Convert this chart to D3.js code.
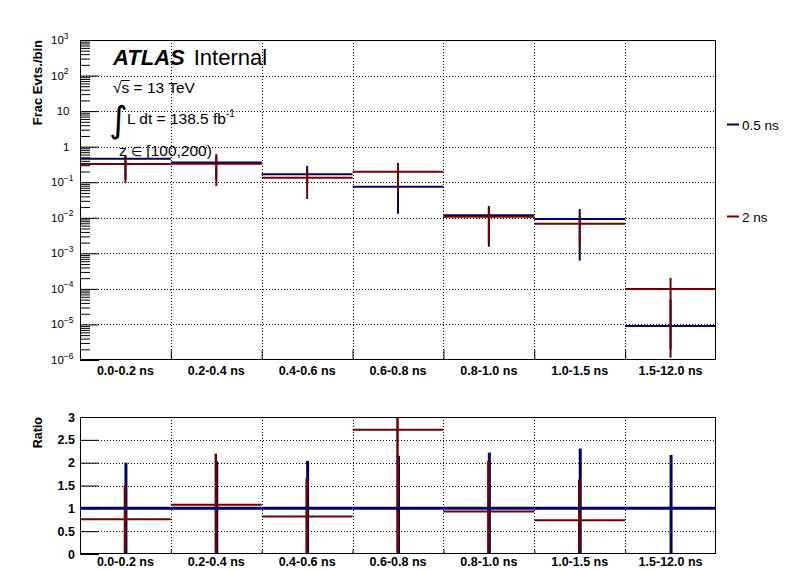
<!DOCTYPE html>
<html><head><meta charset="utf-8">
<script src="https://cdn.jsdelivr.net/npm/d3@7"></script>
<style>
body{margin:0;background:#fff;}
svg{display:block;font-family:"Liberation Sans",Arial,Helvetica,sans-serif;}
</style></head>
<body>
<svg id="c" width="796" height="572"></svg>
<script>
// ---------- data ----------
const bins = ["0.0-0.2 ns","0.2-0.4 ns","0.4-0.6 ns","0.6-0.8 ns","0.8-1.0 ns","1.0-1.5 ns","1.5-12.0 ns"];
const seriesNames = ["0.5 ns","2 ns"];
const seriesColors = ["#000066","#730000"];
// fraction of events per bin (upper panel)
const frac05   = [0.459, 0.359, 0.167, 0.0748, 0.01175, 0.00925, 9.0e-6];
const frac05Lo = [0.12, 0.12, 0.10, 0.0130, 0.00154, 0.00062, 2.0e-6];
const frac05Hi = [0.55, 0.55, 0.286, 0.14, 0.0214, 0.0177, 5.0e-5];
const frac2    = [0.326, 0.330, 0.134, 0.198, 0.0107, 0.0068, 1.0e-4];
const frac2Lo  = [0.0933, 0.0783, 0.0337, 0.0508, 0.00195, 0.00151, 1.16e-6];
const frac2Hi  = [0.583, 0.622, 0.235, 0.347, 0.0188, 0.0112, 2.03e-4];
// ratio to 0.5 ns (lower panel)
const ratio05   = [1, 1, 1, 1, 1, 1, 1];
const ratio05Lo = [0, 0, 0, 0, 0, 0, 0];
const ratio05Hi = [2.0, 2.03, 2.04, 2.15, 2.22, 2.31, 2.17];
const ratio2    = [0.76, 1.08, 0.82, 2.72, 0.93, 0.74, 11.0];
const ratio2Lo  = [0, 0, 0, 0, 0, 0, 0];
const ratio2Hi  = [1.50, 2.20, 1.65, 3.6, 2.04, 1.63, 22.0];
// tick labels
const upperTicks = [
  {v:1e3, b:"10", e:"3"}, {v:1e2, b:"10", e:"2"}, {v:10, b:"10"}, {v:1, b:"1"},
  {v:1e-1, b:"10", e:"\u22121"}, {v:1e-2, b:"10", e:"\u22122"}, {v:1e-3, b:"10", e:"\u22123"},
  {v:1e-4, b:"10", e:"\u22124"}, {v:1e-5, b:"10", e:"\u22125"}, {v:1e-6, b:"10", e:"\u22126"}
];
const ratioTicks = [0, 0.5, 1, 1.5, 2, 2.5, 3];
const ratioTickLabels = ["0","0.5","1","1.5","2","2.5","3"];

// ---------- layout ----------
const svg = d3.select("#c");
const L = 80, R = 716;
const uT = 40, uB = 360;
const rT = 417, rB = 554;

const x = d3.scaleBand().domain(bins).range([L, R]).paddingInner(0).paddingOuter(0);
const yU = d3.scaleLog().domain([1e-6, 1e3]).range([uB, uT]);
const yR = d3.scaleLinear().domain([0, 3]).range([rB, rT]);

const defs = svg.append("defs");
defs.append("clipPath").attr("id","clipU").append("rect").attr("x",L).attr("y",uT).attr("width",R-L).attr("height",uB-uT);
defs.append("clipPath").attr("id","clipR").append("rect").attr("x",L).attr("y",rT).attr("width",R-L).attr("height",rB-rT);

const edges = bins.map(b => x(b)).slice(1);

function grid(g, yScale, yVals, top, bottom) {
  g.selectAll("line.hg").data(yVals).join("line")
    .attr("x1", L).attr("x2", R)
    .attr("y1", d => Math.round(yScale(d)) + 0.5).attr("y2", d => Math.round(yScale(d)) + 0.5)
    .attr("stroke", "#000").attr("stroke-width", 1).attr("stroke-dasharray", "1,2");
  g.selectAll("line.vg").data(edges).join("line").attr("class","vg")
    .attr("x1", d => Math.round(d) + 0.5).attr("x2", d => Math.round(d) + 0.5)
    .attr("y1", top).attr("y2", bottom)
    .attr("stroke", "#000").attr("stroke-width", 1).attr("stroke-dasharray", "1,2");
}

// ---------- upper panel ----------
const gU = svg.append("g");
const decades = [1e-5,1e-4,1e-3,1e-2,1e-1,1,10,100];
grid(gU.append("g"), yU, decades, uT, uB);

const minor = [];
for (let k = -6; k < 3; k++) for (let m = 2; m <= 9; m++) minor.push(m * Math.pow(10, k));
gU.append("g").attr("transform", `translate(${L},0)`)
  .call(d3.axisLeft(yU).tickValues(minor).tickSize(-10).tickFormat(""))
  .call(g => g.select(".domain").remove());
gU.append("g").attr("transform", `translate(${L},0)`)
  .call(d3.axisLeft(yU).tickValues(upperTicks.map(d => d.v)).tickSize(-19).tickFormat(""))
  .call(g => g.select(".domain").remove());
gU.append("g").attr("transform", `translate(0,${uB})`)
  .call(d3.axisBottom(d3.scaleLinear().domain([L,R]).range([L,R])).tickValues(edges).tickSize(-11).tickFormat(""))
  .call(g => g.select(".domain").remove());

const yl = gU.append("g").attr("font-size", 11.5).attr("fill", "#000");
upperTicks.forEach(t => {
  const yy = yU(t.v) + 4;
  if (t.e) {
    const tx = yl.append("text").attr("x", 51).attr("y", yy);
    tx.append("tspan").text(t.b);
    tx.append("tspan").attr("dy", -5.5).attr("font-size", 8.5).text(t.e);
  } else {
    yl.append("text").attr("x", 69.5).attr("y", yy).attr("text-anchor", "end").text(t.b);
  }
});
gU.append("g").selectAll("text").data(bins).join("text")
  .attr("x", d => x(d) + x.bandwidth()/2).attr("y", 375)
  .attr("text-anchor", "middle").attr("font-size", 12.5).attr("font-weight", "bold").text(d => d);

svg.append("text").attr("transform", `translate(42,${uT}) rotate(-90)`)
  .attr("text-anchor", "end").attr("font-size", 13).attr("font-weight", "bold").text("Frac Evts./bin");

const upperSeries = [
  {v: frac05, lo: frac05Lo, hi: frac05Hi, c: seriesColors[0]},
  {v: frac2,  lo: frac2Lo,  hi: frac2Hi,  c: seriesColors[1]}
];
const gUd = gU.append("g").attr("clip-path", "url(#clipU)");
upperSeries.forEach(s => {
  const g = gUd.append("g");
  g.selectAll("line.e").data(bins).join("line")
    .attr("x1", d => x(d) + x.bandwidth()/2).attr("x2", d => x(d) + x.bandwidth()/2)
    .attr("y1", (d,i) => yU(s.lo[i])).attr("y2", (d,i) => yU(s.hi[i]))
    .attr("stroke", s.c).attr("stroke-width", 2);
  g.selectAll("line.h").data(bins).join("line")
    .attr("x1", d => x(d)).attr("x2", d => x(d) + x.bandwidth())
    .attr("y1", (d,i) => yU(s.v[i])).attr("y2", (d,i) => yU(s.v[i]))
    .attr("stroke", s.c).attr("stroke-width", 2);
});

svg.append("rect").attr("x", L + 0.5).attr("y", uT + 0.5).attr("width", R - L - 1).attr("height", uB - uT - 1)
  .attr("fill", "none").attr("stroke", "#000").attr("stroke-width", 1);

// ---------- annotations ----------
const ann = svg.append("g").attr("fill", "#000");
const atl = ann.append("text").attr("x", 113).attr("y", 65).attr("font-size", 22);
atl.append("tspan").attr("font-weight", "bold").attr("font-style", "italic").text("ATLAS");
atl.append("tspan").attr("dx", 9).text("Internal");

const sq = ann.append("text").attr("x", 113).attr("y", 93).attr("font-size", 15.5);
sq.append("tspan").text("\u221A");
sq.append("tspan").text("s = 13 TeV");
{
  const node = sq.node();
  const s0 = node.getStartPositionOfChar(1).x;
  const s1 = node.getEndPositionOfChar(1).x;
  ann.append("line").attr("x1", s0 - 0.5).attr("x2", s1 + 0.5).attr("y1", 80.5).attr("y2", 80.5)
    .attr("stroke", "#000").attr("stroke-width", 1);
}
ann.append("text").attr("x", 109).attr("y", 132).attr("font-size", 36)
  .attr("font-family", "DejaVu Sans").text("\u222B");
const lum = ann.append("text").attr("x", 127).attr("y", 124).attr("font-size", 15.5);
lum.append("tspan").text("L dt = 138.5 fb");
lum.append("tspan").attr("dy", -7).attr("font-size", 10).text("-1");
const zt = ann.append("text").attr("x", 119).attr("y", 156).attr("font-size", 15.5);
zt.append("tspan").text("z ");
zt.append("tspan").attr("font-size", 13).text("\u2208");
zt.append("tspan").text(" [100,200)");

// ---------- legend ----------
const leg = svg.append("g");
const legY = [124.5, 216.5];
seriesNames.forEach((n, i) => {
  leg.append("line").attr("x1", 727).attr("x2", 739).attr("y1", legY[i]).attr("y2", legY[i])
    .attr("stroke", seriesColors[i]).attr("stroke-width", 2);
  leg.append("text").attr("x", 742).attr("y", legY[i] + 5).attr("font-size", 13.5).text(n);
});

// ---------- ratio panel ----------
const gR = svg.append("g");
grid(gR.append("g"), yR, ratioTicks.filter(d => d > 0 && d < 3), rT, rB);
gR.append("g").attr("transform", `translate(${L},0)`)
  .call(d3.axisLeft(yR).tickValues(ratioTicks).tickSize(-19).tickFormat(""))
  .call(g => g.select(".domain").remove());
gR.append("g").attr("transform", `translate(0,${rB})`)
  .call(d3.axisBottom(d3.scaleLinear().domain([L,R]).range([L,R])).tickValues(edges).tickSize(-5).tickFormat(""))
  .call(g => g.select(".domain").remove());
gR.append("g").selectAll("text").data(ratioTicks).join("text")
  .attr("x", 75).attr("y", d => yR(d) + 4.5).attr("text-anchor", "end")
  .attr("font-size", 12.5).attr("font-weight", "bold").text((d,i) => ratioTickLabels[i]);
gR.append("g").selectAll("text").data(bins).join("text")
  .attr("x", d => x(d) + x.bandwidth()/2).attr("y", 566)
  .attr("text-anchor", "middle").attr("font-size", 12.5).attr("font-weight", "bold").text(d => d);
svg.append("text").attr("transform", `translate(42,${rT}) rotate(-90)`)
  .attr("text-anchor", "end").attr("font-size", 12.5).attr("font-weight", "bold").text("Ratio");

const gRd = gR.append("g").attr("clip-path", "url(#clipR)");
const inR = v => v >= 0 && v <= 3;
gRd.append("g").selectAll("line").data(bins).join("line")
  .attr("x1", d => x(d) + x.bandwidth()/2 + 0.5).attr("x2", d => x(d) + x.bandwidth()/2 + 0.5)
  .attr("y1", (d,i) => yR(ratio05Lo[i])).attr("y2", (d,i) => yR(ratio05Hi[i]))
  .attr("stroke", seriesColors[0]).attr("stroke-width", 3);
const redIdx = bins.map((d,i) => i).filter(i => inR(ratio2[i]));
gRd.append("g").selectAll("line").data(redIdx).join("line")
  .attr("x1", i => x(bins[i]) + x.bandwidth()/2 - 0.5).attr("x2", i => x(bins[i]) + x.bandwidth()/2 - 0.5)
  .attr("y1", i => yR(ratio2Lo[i])).attr("y2", i => yR(ratio2Hi[i]))
  .attr("stroke", seriesColors[1]).attr("stroke-width", 2.5);
gRd.append("g").selectAll("line").data(redIdx).join("line")
  .attr("x1", i => x(bins[i])).attr("x2", i => x(bins[i]) + x.bandwidth())
  .attr("y1", i => yR(ratio2[i])).attr("y2", i => yR(ratio2[i]))
  .attr("stroke", seriesColors[1]).attr("stroke-width", 2);
gRd.append("g").selectAll("line").data(bins).join("line")
  .attr("x1", d => x(d)).attr("x2", d => x(d) + x.bandwidth())
  .attr("y1", (d,i) => yR(ratio05[i])).attr("y2", (d,i) => yR(ratio05[i]))
  .attr("stroke", seriesColors[0]).attr("stroke-width", 3);

svg.append("rect").attr("x", L + 0.5).attr("y", rT + 0.5).attr("width", R - L - 1).attr("height", rB - rT - 1)
  .attr("fill", "none").attr("stroke", "#000").attr("stroke-width", 1);

svg.selectAll(".tick line").attr("stroke", "#000");
</script>
</body></html>
